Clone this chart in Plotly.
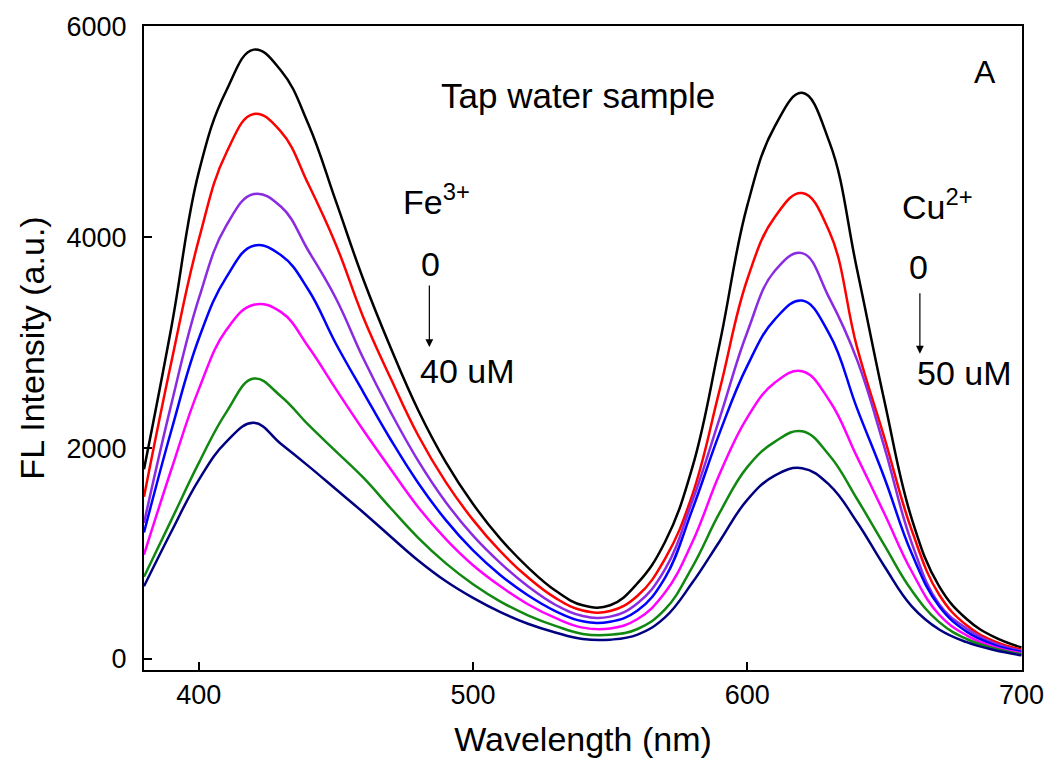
import plotly.graph_objects as go

# wavelength grid (nm), every 10 nm
wavelength = list(range(380, 701, 10))

# FL intensity (a.u.) of each trace, top to bottom
black = [1800, 3150, 4620, 5390, 5780, 5580, 5070, 4340, 3600, 2950, 2360, 1870, 1470, 1140,
         870, 650, 510, 510, 720, 1110, 1820, 3000, 4300, 5050, 5370, 4900, 3700, 2450,
         1330, 690, 380, 210, 110]
red = [1540, 2820, 3980, 4800, 5170, 5000, 4500, 3930, 3240, 2660, 2120, 1680, 1320, 1020,
       775, 580, 460, 455, 600, 950, 1560, 2560, 3600, 4190, 4420, 4050, 2960, 2100,
       1220, 610, 320, 170, 90]
purple = [1290, 2420, 3420, 4110, 4410, 4290, 3870, 3420, 2850, 2340, 1880, 1490, 1170, 910,
          690, 515, 408, 402, 530, 850, 1500, 2290, 3100, 3680, 3850, 3420, 2840, 2010,
          1100, 520, 290, 150, 78]
blue = [1200, 2170, 3040, 3620, 3920, 3830, 3500, 2990, 2530, 2080, 1670, 1320, 1030, 795,
        605, 455, 358, 354, 460, 770, 1420, 2150, 2780, 3220, 3400, 3080, 2380, 1720,
        1000, 500, 260, 135, 68]
magenta = [990, 1800, 2560, 3120, 3360, 3290, 2960, 2560, 2170, 1800, 1440, 1140, 890, 690,
           520, 390, 298, 290, 380, 630, 1110, 1760, 2290, 2620, 2730, 2450, 1920, 1380,
           830, 420, 225, 115, 55]
green = [780, 1320, 1860, 2340, 2660, 2490, 2220, 1970, 1720, 1430, 1150, 910, 710, 545,
         415, 315, 238, 230, 285, 470, 875, 1390, 1820, 2060, 2160, 1930, 1520, 1080,
         650, 350, 190, 100, 45]
navy = [690, 1210, 1700, 2060, 2240, 2040, 1830, 1610, 1390, 1160, 935, 740, 580, 445,
        335, 252, 190, 184, 232, 395, 725, 1120, 1510, 1740, 1810, 1650, 1300, 880,
        500, 280, 160, 85, 35]

series = [black, red, purple, blue, magenta, green, navy]
colors = ['#000000', '#ff0000', '#8a2be2', '#0000ff', '#ff00ff', '#118811', '#000080']

x_ticks = [400, 500, 600, 700]
y_ticks = [0, 2000, 4000, 6000]

font_family = 'Liberation Sans, Arial, sans-serif'

fig = go.Figure()
for values, color in zip(series, colors):
    fig.add_trace(go.Scatter(x=wavelength, y=values, mode='lines',
                             line=dict(color=color, width=2.5, shape='spline', smoothing=1.2),
                             showlegend=False))

axis_style = dict(showline=True, linecolor='black', linewidth=2, mirror=True,
                  ticks='inside', ticklen=8, tickwidth=2, tickcolor='black',
                  showgrid=False, zeroline=False,
                  tickfont=dict(family=font_family, size=27, color='black'))

fig.update_xaxes(range=[380, 700.2], tickvals=x_ticks,
                 title=dict(text='Wavelength (nm)', font=dict(family=font_family, size=34),
                            standoff=18),
                 **axis_style)
fig.update_yaxes(range=[-104, 6004], tickvals=y_ticks, ticklabelstandoff=10,
                 title=dict(text='FL Intensity (a.u.)', font=dict(family=font_family, size=34),
                            standoff=12),
                 **axis_style)

annotations = [
    dict(x=0.494, y=0.892, text='Tap water sample', size=35, xanchor='center'),
    dict(x=0.958, y=0.929, text='A', size=32, xanchor='center'),
    dict(x=0.2928, y=0.730, text='Fe<sup>3+</sup>', size=34, xanchor='left'),
    dict(x=0.326, y=0.630, text='0', size=34, xanchor='center'),
    dict(x=0.3125, y=0.465, text='40 uM', size=34, xanchor='left'),
    dict(x=0.861, y=0.723, text='Cu<sup>2+</sup>', size=34, xanchor='left'),
    dict(x=0.8818, y=0.6265, text='0', size=34, xanchor='center'),
    dict(x=0.878, y=0.461, text='50 uM', size=34, xanchor='left'),
]
for a in annotations:
    fig.add_annotation(xref='paper', yref='paper', x=a['x'], y=a['y'], text=a['text'],
                       xanchor=a['xanchor'], yanchor='middle', showarrow=False,
                       font=dict(family=font_family, size=a['size'], color='black'))

# arrows 0 -> concentration
for ax_x, tip_y, length in [(0.325, 0.5015, 63), (0.8837, 0.4912, 62)]:
    fig.add_annotation(xref='paper', yref='paper', x=ax_x, y=tip_y, ax=0, ay=-length,
                       text='', showarrow=True, arrowhead=2, arrowsize=1.3,
                       arrowwidth=1.2, arrowcolor='black')

fig.update_layout(width=1056, height=776,
                  margin=dict(l=144, r=32, t=22, b=106),
                  plot_bgcolor='white', paper_bgcolor='white',
                  font=dict(family=font_family, color='black'))

# drop the page's default body margin so the figure sits at the window corner
fig.write_html("out.html", config={'displayModeBar': False},
               post_script="document.body.style.margin = '0';")
